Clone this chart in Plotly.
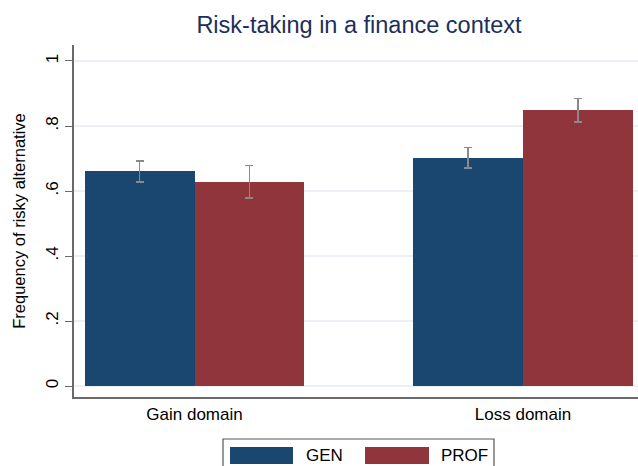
import plotly.graph_objects as go

# ---- data ----
categories = ["Gain domain", "Loss domain"]
series_names = ["GEN", "PROF"]
gen_values = [0.661, 0.701]
gen_err_hi = [0.693, 0.734]
gen_err_lo = [0.627, 0.670]
prof_values = [0.628, 0.849]
prof_err_hi = [0.679, 0.884]
prof_err_lo = [0.578, 0.812]
y_tickvals = [0, 0.2, 0.4, 0.6, 0.8, 1]
y_ticktext = ["0", ".2", ".4", ".6", ".8", "1"]

colors = ["#1a476f", "#90353b"]
W, H = 638, 466
L, R, T, B = 74, 0, 45, 69
x_pos = list(range(len(categories)))
bw = 0.334

fig = go.Figure()
for i, (name, vals, hi, lo) in enumerate([
        ("GEN", gen_values, gen_err_hi, gen_err_lo),
        ("PROF", prof_values, prof_err_hi, prof_err_lo)]):
    fig.add_trace(go.Bar(
        x=x_pos, y=vals, name=name, width=bw,
        offset=-bw if i == 0 else 0,
        marker=dict(color=colors[i], line=dict(width=0)),
        error_y=dict(type="data", symmetric=False,
                     array=[h - v for h, v in zip(hi, vals)],
                     arrayminus=[v - l for v, l in zip(vals, lo)],
                     color="#8a8a8a", thickness=1.6, width=4),
        showlegend=False,
    ))

fig.update_layout(
    width=W, height=H,
    margin=dict(l=L, r=R, t=T, b=B, pad=0),
    paper_bgcolor="white", plot_bgcolor="white",
    font=dict(family="Liberation Sans, Arial, sans-serif", color="black"),
    title=dict(text="Risk-taking in a finance context", x=(359) / W, xanchor="center",
               y=1 - 25 / H, yanchor="middle",
               font=dict(size=23.5, color="#1c2e5a")),
    bargap=0, bargroupgap=0,
    xaxis=dict(range=[-0.3668, 1.350], tickvals=x_pos, ticktext=categories,
               showgrid=False, zeroline=False, showline=True, linecolor="#6a6a6a",
               linewidth=1.5, ticks="", tickfont=dict(size=17), ticklabelstandoff=1),
    yaxis=dict(range=[-0.0338, 1.0492], tickvals=y_tickvals, ticktext=y_ticktext,
               showgrid=True, gridcolor="#eaf0f3", gridwidth=1.5, zeroline=False,
               showline=True, linecolor="#6a6a6a", linewidth=1.5,
               ticks="outside", ticklen=7, tickcolor="#6a6a6a", tickwidth=1.2,
               tickangle=-90, tickfont=dict(size=17),
               title=dict(text="Frequency of risky alternative", font=dict(size=16.5),
                          standoff=14)),
)

# manual legend (Stata-style wide swatches)
def px(xp):
    return (xp - L) / (W - L - R)

def py(yp):
    return (H - B - yp) / (H - T - B)

shapes = [dict(type="rect", xref="paper", yref="paper",
               x0=px(223), x1=px(494), y0=py(470), y1=py(439),
               line=dict(color="#555555", width=1.2), fillcolor="white")]
sw = [(230, 293, 304), (365, 429, 439)]
annotations = []
for (x0, x1, tx), name, c in zip(sw, series_names, colors):
    shapes.append(dict(type="rect", xref="paper", yref="paper",
                       x0=px(x0), x1=px(x1), y0=py(464), y1=py(447),
                       line=dict(width=0), fillcolor=c))
    annotations.append(dict(text=name, xref="paper", yref="paper", x=px(tx), y=py(455.5),
                            xanchor="left", yanchor="middle", showarrow=False,
                            font=dict(size=17, color="black")))
fig.update_layout(shapes=shapes, annotations=annotations)

fig.write_html("out.html")
